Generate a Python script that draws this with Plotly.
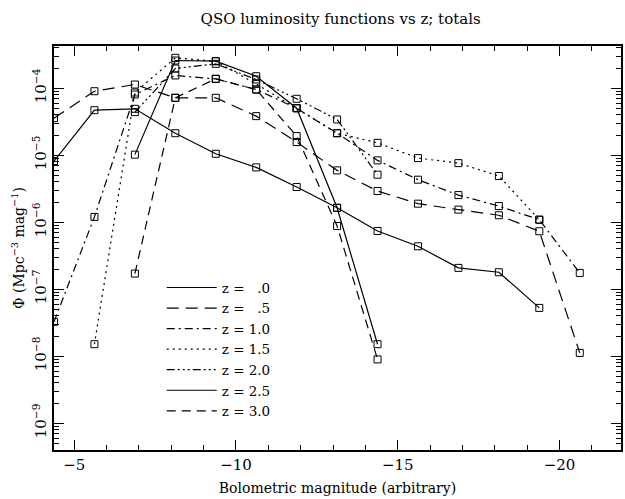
import plotly.graph_objects as go

# Bolometric magnitude grid (arbitrary), 1.25 mag steps
mag_all = [-4.375, -5.625, -6.875, -8.125, -9.375, -10.625, -11.875,
           -13.125, -14.375, -15.625, -16.875, -18.125, -19.375, -20.625]

mag_z00 = mag_all[:13]
phi_z00 = [8.17e-6, 4.70e-5, 4.93e-5, 2.13e-5, 1.05e-5, 6.58e-6, 3.35e-6,
           1.64e-6, 7.40e-7, 4.37e-7, 2.08e-7, 1.79e-7, 5.26e-8]

mag_z05 = mag_all[:]
phi_z05 = [3.57e-5, 9.02e-5, 1.135e-4, 7.19e-5, 7.19e-5, 3.83e-5, 1.57e-5,
           5.94e-6, 2.92e-6, 1.89e-6, 1.54e-6, 1.27e-6, 7.32e-7, 1.12e-8]

mag_z10 = mag_all[:]
phi_z10 = [3.26e-8, 1.20e-6, 8.05e-5, 1.55e-4, 1.38e-4, 9.56e-5, 5.03e-5,
           2.13e-5, 8.37e-6, 4.31e-6, 2.54e-6, 1.74e-6, 1.09e-6, 1.75e-7]

mag_z15 = mag_all[1:13]
phi_z15 = [1.51e-8, 8.63e-5, 2.84e-4, 2.53e-4, 1.16e-4, 5.03e-5, 2.13e-5,
           1.53e-5, 9.06e-6, 7.62e-6, 4.89e-6, 1.09e-6]

mag_z20 = mag_all[2:9]
phi_z20 = [4.39e-5, 1.97e-4, 2.31e-4, 1.35e-4, 6.95e-5, 3.42e-5, 5.12e-6]

mag_z25 = mag_all[2:9]
phi_z25 = [1.02e-5, 2.59e-4, 2.53e-4, 1.51e-4, 5.03e-5, 1.64e-6, 1.51e-8]

mag_z30 = mag_all[2:9]
phi_z30 = [1.71e-7, 7.19e-5, 1.38e-4, 9.56e-5, 1.93e-5, 8.78e-7, 8.96e-9]

labels = ["z = \u2007.0", "z = \u2007.5", "z = 1.0", "z = 1.5",
          "z = 2.0", "z = 2.5", "z = 3.0"]

y_major = [1e-9, 1e-8, 1e-7, 1e-6, 1e-5, 1e-4]
y_major_text = ["10<sup>\u22129</sup>", "10<sup>\u22128</sup>", "10<sup>\u22127</sup>",
                "10<sup>\u22126</sup>", "10<sup>\u22125</sup>", "10<sup>\u22124</sup>"]
x_major = [-5, -10, -15, -20]
x_major_text = ["\u22125", "\u221210", "\u221215", "\u221220"]

dashes = ["solid", "12px,7px", "8px,4px,2px,4px", "2px,4px",
          "8px,3px,2px,3px,2px,3px,2px,3px", "solid", "9px,6px"]

series = [(mag_z00, phi_z00), (mag_z05, phi_z05), (mag_z10, phi_z10),
          (mag_z15, phi_z15), (mag_z20, phi_z20), (mag_z25, phi_z25),
          (mag_z30, phi_z30)]

fig = go.Figure()
for (mx, py), d in zip(series, dashes):
    fig.add_trace(go.Scatter(
        x=mx, y=py, mode="lines+markers", showlegend=False,
        line=dict(color="black", width=1.2, dash=d),
        marker=dict(symbol="square-open", size=7, color="black",
                    line=dict(width=1, color="black"))))
for lab, d in zip(labels, dashes):
    fig.add_trace(go.Scatter(
        x=[None], y=[None], mode="lines", name=lab, showlegend=True,
        line=dict(color="black", width=1.2, dash=d)))

minor_y = [m * 10.0 ** e for e in range(-10, -3) for m in range(2, 10)]
minor_x = [v for v in range(-5, -22, -1) if v not in x_major]

font_family = "DejaVu Serif"
fig.update_layout(
    width=625, height=499,
    margin=dict(l=54, r=2, t=46, b=49),
    paper_bgcolor="white", plot_bgcolor="white",
    font=dict(family=font_family, color="black", size=13),
    title=dict(text="QSO luminosity functions vs z; totals", x=0.545, xanchor="center",
               y=0.963, yanchor="middle", font=dict(size=15, family=font_family)),
    showlegend=True,
    legend=dict(x=0.19, y=0.44, xanchor="left", yanchor="top",
                bgcolor="rgba(0,0,0,0)", borderwidth=0,
                font=dict(size=13.5, family=font_family), itemwidth=50,
                tracegroupgap=0),
)
fig.update_xaxes(
    range=[-4.375, -21.9], showgrid=False, zeroline=False,
    showline=True, linecolor="black", linewidth=1.5, mirror="ticks",
    ticks="inside", ticklen=10, tickwidth=1, tickcolor="black",
    tickmode="array", tickvals=x_major, ticktext=x_major_text,
    tickfont=dict(size=15, family=font_family),
    minor=dict(tickmode="array", tickvals=minor_x, ticks="inside", ticklen=5,
               tickwidth=1, tickcolor="black", showgrid=False),
    title=dict(text="Bolometric magnitude (arbitrary)", font=dict(size=14, family=font_family),
               standoff=10),
)
fig.update_yaxes(
    type="log", range=[-9.40, -3.37], showgrid=False, zeroline=False,
    showline=True, linecolor="black", linewidth=1.5, mirror="ticks",
    ticks="inside", ticklen=10, tickwidth=1, tickcolor="black",
    tickmode="array", tickvals=y_major, ticktext=y_major_text, tickangle=-90,
    tickfont=dict(size=15, family=font_family),
    minor=dict(tickmode="array", tickvals=minor_y, ticks="inside", ticklen=5,
               tickwidth=1, tickcolor="black", showgrid=False),
    title=dict(text="\u03a6 (Mpc<sup>\u22123</sup> mag<sup>\u22121</sup>)",
               font=dict(size=14, family=font_family), standoff=2),
)
fig.write_html("out.html")
